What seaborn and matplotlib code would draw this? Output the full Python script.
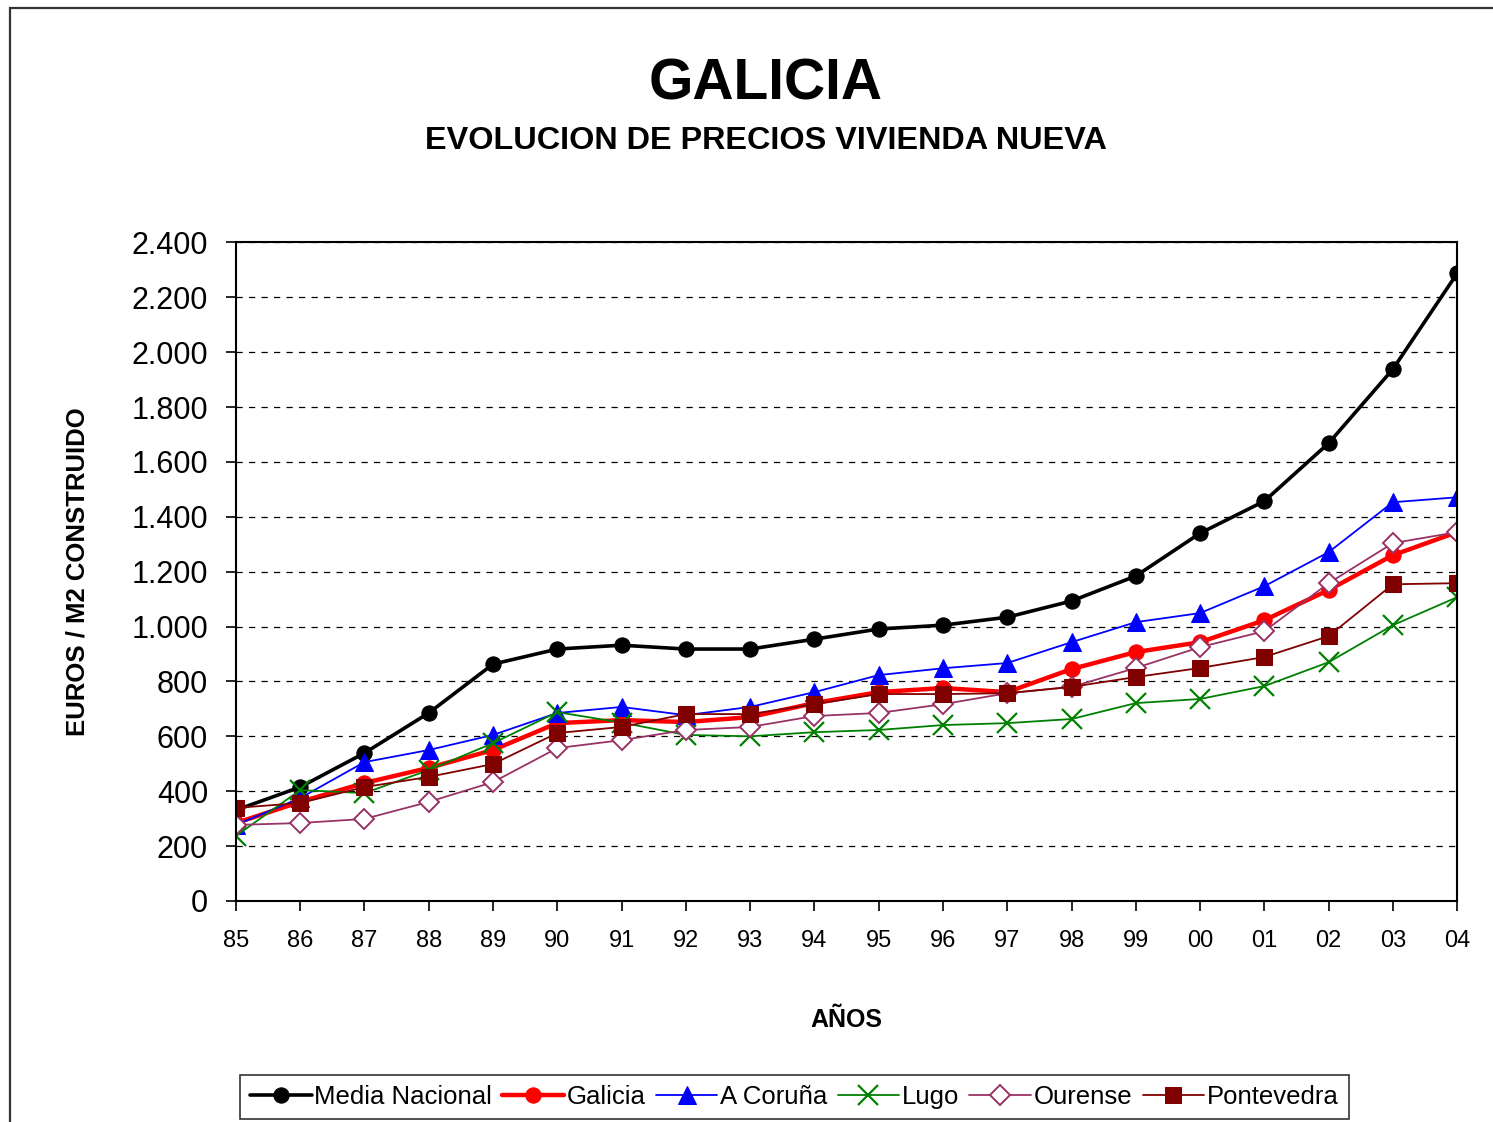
import matplotlib
matplotlib.use("Agg")

import matplotlib.pyplot as plt
import pandas as pd
import seaborn as sns
from matplotlib.patches import Rectangle

years = ["85", "86", "87", "88", "89", "90", "91", "92", "93", "94",
         "95", "96", "97", "98", "99", "00", "01", "02", "03", "04"]

media_nacional = [331, 415, 539, 685, 863, 918, 932, 918, 918, 954,
                  991, 1005, 1034, 1093, 1184, 1340, 1457, 1668, 1938, 2287]
galicia = [284, 361, 430, 485, 550, 648, 659, 652, 670, 721,
           761, 776, 761, 845, 907, 943, 1023, 1133, 1260, 1344]
a_coruna = [277, 375, 506, 550, 605, 685, 707, 677, 707, 761,
            823, 848, 867, 943, 1016, 1049, 1147, 1271, 1453, 1471]
lugo = [237, 404, 393, 477, 575, 688, 650, 605, 600, 615,
        623, 641, 648, 663, 721, 736, 783, 870, 1005, 1107]
ourense = [277, 284, 299, 361, 433, 557, 586, 623, 634, 674,
           685, 717, 757, 780, 849, 925, 983, 1158, 1304, 1344]
pontevedra = [339, 357, 415, 452, 499, 612, 634, 681, 681, 717,
              754, 754, 757, 780, 816, 849, 889, 965, 1154, 1158]

series = [
    ("Media Nacional", media_nacional, dict(color="black", lw=2.6, marker="o", ms=11, mfc="black", mec="black")),
    ("Galicia", galicia, dict(color="#FF0000", lw=3.2, marker="o", ms=11, mfc="#FF0000", mec="#FF0000")),
    ("A Coruña", a_coruna, dict(color="#0000FF", lw=1.3, marker="^", ms=12.5, mfc="#0000FF", mec="#0000FF")),
    ("Lugo", lugo, dict(color="#008000", lw=1.3, marker="x", ms=14, mec="#008000", mew=1.6)),
    ("Ourense", ourense, dict(color="#993366", lw=1.3, marker="D", ms=10, mfc="white", mec="#993366", mew=1.4)),
    ("Pontevedra", pontevedra, dict(color="#800000", lw=1.3, marker="s", ms=11, mfc="#800000", mec="#800000")),
]

sns.set_theme(style="white")
plt.rcParams["font.family"] = ["Liberation Sans", "DejaVu Sans"]
plt.rcParams["text.color"] = "black"
plt.rcParams["axes.labelcolor"] = "black"
plt.rcParams["xtick.color"] = "black"
plt.rcParams["ytick.color"] = "black"

fig = plt.figure(figsize=(14.93, 11.22), dpi=100)
ax = fig.add_axes([0.158, 0.197, 0.818, 0.587])

xpos = list(range(len(years)))
for name, vals, style in series:
    df = pd.DataFrame({"x": xpos, "y": vals})
    sns.lineplot(data=df, x="x", y="y", ax=ax, label=name, **style)

ax.set_xlim(0, len(years) - 1)
ax.set_ylim(0, 2400)
ax.set_xticks(xpos)
ax.set_xticklabels(years)
yticks = list(range(0, 2401, 200))
ax.set_yticks(yticks)
ax.set_yticklabels([f"{v:,}".replace(",", ".") for v in yticks])
ax.tick_params(axis="y", labelsize=22, direction="out", length=7, width=1.2, left=True, pad=13)
ax.tick_params(axis="x", labelsize=17, direction="out", length=7, width=1.2, bottom=True, pad=14)
ax.yaxis.grid(True, linestyle=(0, (5, 5)), color="black", lw=0.9)
ax.xaxis.grid(False)
for sp in ax.spines.values():
    sp.set_color("black")
    sp.set_linewidth(1.5)

ax.set_xlabel("AÑOS", fontsize=18, fontweight="bold", labelpad=40)
ax.set_ylabel("EUROS / M2 CONSTRUIDO", fontsize=18.5, fontweight="bold", labelpad=30)

fig.text(0.513, 0.925, "GALICIA", ha="center", va="center", fontsize=41, fontweight="bold")
fig.text(0.513, 0.874, "EVOLUCION DE PRECIOS VIVIENDA NUEVA", ha="center", va="center",
         fontsize=23.3, fontweight="bold")

ax.get_legend().remove()
handles, labels = ax.get_legend_handles_labels()
leg = fig.legend(handles, labels, loc="center", bbox_to_anchor=(0.532, 0.0223), ncol=6,
                 fontsize=18.5, frameon=True, fancybox=False, edgecolor="black",
                 handlelength=2.4, handletextpad=0.1, columnspacing=0.4, borderpad=0.4)
leg.get_frame().set_linewidth(1.2)

fig.patches.append(Rectangle((10 / 1493, -0.05), 1.2, 1 - 8 / 1122 + 0.05,
                             transform=fig.transFigure, fill=False, edgecolor="#333333", lw=1.6))

fig.savefig("out.png", dpi=100, facecolor="white")
